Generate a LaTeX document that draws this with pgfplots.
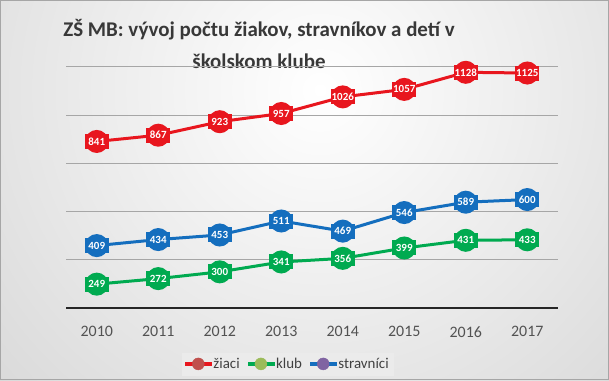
\documentclass[border=0pt]{standalone}
\usepackage{pgfplots}
\pgfplotsset{compat=1.18}
\usepackage{fontspec}
\setmainfont{Carlito}
\definecolor{cred}{RGB}{232,22,30}
\definecolor{cgreen}{RGB}{0,170,80}
\definecolor{cblue}{RGB}{20,110,190}
\definecolor{lred}{RGB}{192,80,77}
\definecolor{lgreen}{RGB}{155,187,89}
\definecolor{lblue}{RGB}{128,100,162}
\pgfplotsset{
  lbl/.style={nodes near coords, point meta=explicit symbolic,
    every node near coord/.append style={anchor=center, text=white, font=\fontsize{11}{13}\selectfont\bfseries, inner sep=0pt, minimum width=24bp, minimum height=15bp, fill=#1}},
  ser/.style={#1, line width=3bp, mark=*, mark size=10bp, mark options={fill=#1, draw=#1}, lbl=#1, forget plot},
  leg/.style 2 args={legend image code/.code={\fill[#1] (0bp,-1.5bp) rectangle (26bp,1.5bp); \fill[#2] (13bp,0bp) circle (6bp);}},
}
\begin{document}
\begin{tikzpicture}[x=1bp,y=1bp]
\useasboundingbox (0,0) rectangle (609,380);
\begin{scope}
\clip (0,0) rectangle (609,380);
\shade[inner color=white, outer color=black!24] (320,290) circle (720);
\end{scope}
\draw[black!35, line width=0.8] (0.5,0.5) rectangle (608.5,379.5);
\node[font=\fontsize{21}{32}\selectfont\bfseries, text=black!78, align=center] at (259,336) {ZŠ MB: vývoj počtu žiakov, stravníkov a detí v\\školskom klube};
\begin{axis}[
  at={(66bp,72bp)}, anchor=south west, scale only axis,
  width=492bp, height=241bp,
  xmin=-0.5, xmax=7.5, ymin=150, ymax=1150,
  ytick={350,550,...,1150}, yticklabels={},
  extra y ticks={150}, extra y tick labels={},
  extra y tick style={grid style={black!85, line width=1.6bp}},
  ymajorgrids, grid style={black!35, line width=1bp},
  axis line style={draw=none},
  major tick length=0,
  xtick={0,...,7}, xticklabels={2010,2011,2012,2013,2014,2015,2016,2017},
  xticklabel style={font=\fontsize{16}{19}\selectfont, text=black!68, yshift=-15bp},
  clip=false,
  legend columns=3,
  legend style={at={(0.451,-0.232)}, anchor=center, fill=black!8, draw=black!8, font=\fontsize{15}{18}\selectfont, text=black!75, inner sep=3bp, /tikz/every even column/.append style={column sep=6bp}},
]
\addplot[ser=cred]
 coordinates {(0,841)[841] (1,867)[867] (2,923)[923] (3,957)[957] (4,1026)[1026] (5,1057)[1057] (6,1128)[1128] (7,1125)[1125]};
\addplot[ser=cgreen]
 coordinates {(0,249)[249] (1,272)[272] (2,300)[300] (3,341)[341] (4,356)[356] (5,399)[399] (6,431)[431] (7,433)[433]};
\addplot[ser=cblue]
 coordinates {(0,409)[409] (1,434)[434] (2,453)[453] (3,511)[511] (4,469)[469] (5,546)[546] (6,589)[589] (7,600)[600]};
\addlegendimage{leg={cred}{lred}}
\addlegendentry{žiaci}
\addlegendimage{leg={cgreen}{lgreen}}
\addlegendentry{klub}
\addlegendimage{leg={cblue}{lblue}}
\addlegendentry{stravníci}
\end{axis}
\end{tikzpicture}
\end{document}
